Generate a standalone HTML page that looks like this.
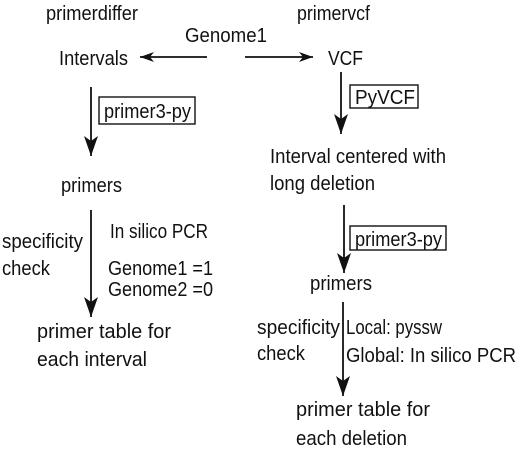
<!DOCTYPE html>
<html><head><style>body{margin:0;background:#fff}svg{display:block}text{font-family:"Liberation Sans",sans-serif;font-size:20px;fill:#111}</style></head>
<body>
<svg width="520" height="464" viewBox="0 0 520 464">
<defs><marker id="a" viewBox="0 0 14 10" refX="14" refY="5" markerWidth="14" markerHeight="10" markerUnits="userSpaceOnUse" orient="auto"><path d="M0,0 L14,5 L0,10 L4,5 z" fill="#111"/></marker>
<marker id="b" viewBox="0 0 20 14" refX="20" refY="7" markerWidth="20" markerHeight="14" markerUnits="userSpaceOnUse" orient="auto"><path d="M0,0 L20,7 L0,14 L5,7 z" fill="#111"/></marker></defs>
<g stroke="#111" stroke-width="1.8" fill="none">
<line x1="207" y1="57" x2="140" y2="57" marker-end="url(#a)"/>
<line x1="245" y1="57" x2="313" y2="57" marker-end="url(#a)"/>
<line x1="91" y1="87" x2="91" y2="156" marker-end="url(#b)"/>
<line x1="91" y1="210" x2="91" y2="317" marker-end="url(#b)"/>
<line x1="341" y1="72" x2="341" y2="134" marker-end="url(#b)"/>
<line x1="344" y1="205" x2="344" y2="273" marker-end="url(#b)"/>
<line x1="343" y1="302" x2="343" y2="396" marker-end="url(#b)"/>
<rect x="99" y="97" width="96" height="27" stroke-width="1.4"/>
<rect x="350" y="85" width="68" height="23" stroke-width="1.4"/>
<rect x="350" y="226" width="96" height="24" stroke-width="1.4"/>
</g>
<g lengthAdjust="spacingAndGlyphs">
<text x="46" y="20" textLength="92" lengthAdjust="spacingAndGlyphs">primerdiffer</text>
<text x="297" y="20" textLength="73" lengthAdjust="spacingAndGlyphs">primervcf</text>
<text x="185" y="42" textLength="82" lengthAdjust="spacingAndGlyphs">Genome1</text>
<text x="59" y="65" textLength="69" lengthAdjust="spacingAndGlyphs">Intervals</text>
<text x="328" y="65" textLength="35" lengthAdjust="spacingAndGlyphs">VCF</text>
<text x="104" y="118" textLength="87" lengthAdjust="spacingAndGlyphs">primer3-py</text>
<text x="355" y="104" textLength="60" lengthAdjust="spacingAndGlyphs">PyVCF</text>
<text x="270" y="163" textLength="176" lengthAdjust="spacingAndGlyphs">Interval centered with</text>
<text x="270" y="190" textLength="105" lengthAdjust="spacingAndGlyphs">long deletion</text>
<text x="355" y="246" textLength="87" lengthAdjust="spacingAndGlyphs">primer3-py</text>
<text x="61" y="192" textLength="61" lengthAdjust="spacingAndGlyphs">primers</text>
<text x="110" y="238" textLength="98" lengthAdjust="spacingAndGlyphs">In silico PCR</text>
<text x="2" y="248" textLength="81" lengthAdjust="spacingAndGlyphs">specificity</text>
<text x="2" y="275" textLength="48" lengthAdjust="spacingAndGlyphs">check</text>
<text x="108" y="275" textLength="105" lengthAdjust="spacingAndGlyphs">Genome1 =1</text>
<text x="108" y="296" textLength="105" lengthAdjust="spacingAndGlyphs">Genome2 =0</text>
<text x="37" y="338" textLength="134" lengthAdjust="spacingAndGlyphs">primer table for</text>
<text x="37" y="366" textLength="110" lengthAdjust="spacingAndGlyphs">each interval</text>
<text x="310" y="290" textLength="62" lengthAdjust="spacingAndGlyphs">primers</text>
<text x="257" y="334" textLength="83" lengthAdjust="spacingAndGlyphs">specificity</text>
<text x="257" y="360" textLength="48" lengthAdjust="spacingAndGlyphs">check</text>
<text x="346" y="334" textLength="96" lengthAdjust="spacingAndGlyphs">Local: pyssw</text>
<text x="346" y="362" textLength="170" lengthAdjust="spacingAndGlyphs">Global: In silico PCR</text>
<text x="296" y="416" textLength="134" lengthAdjust="spacingAndGlyphs">primer table for</text>
<text x="296" y="445" textLength="111" lengthAdjust="spacingAndGlyphs">each deletion</text>
</g>
</svg>
</body></html>
